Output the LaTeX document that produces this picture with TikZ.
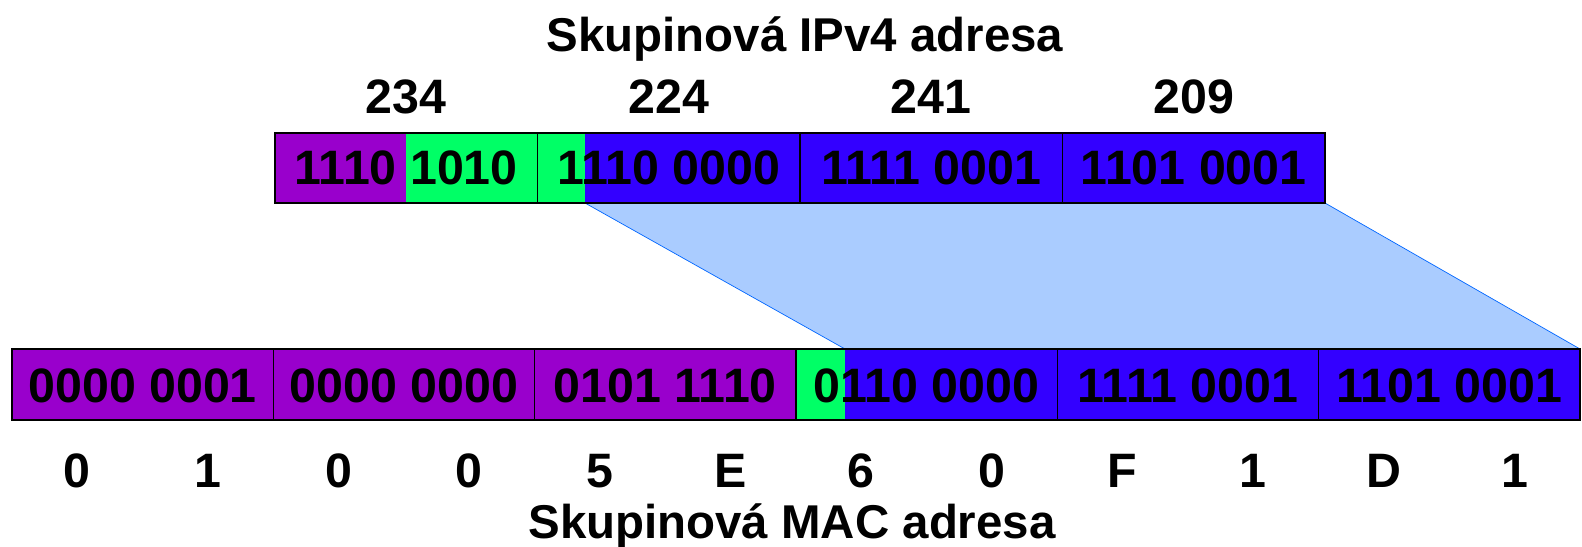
\documentclass[tikz,border=0pt]{standalone}
\usepackage{fontspec}
\setmainfont{Liberation Sans}
\definecolor{fial}{RGB}{153,0,204}
\definecolor{zel}{RGB}{0,255,102}
\definecolor{modr}{RGB}{51,0,255}
\definecolor{stin}{RGB}{170,204,255}
\definecolor{okraj}{RGB}{0,102,255}

\begin{document}
\begin{tikzpicture}[x=0.02cm, y=-0.02cm,
  bunka/.style={font=\fontsize{27.5}{32}\selectfont\bfseries, anchor=base, inner sep=0pt},
  nadpis/.style={font=\fontsize{27}{32}\selectfont\bfseries, anchor=base, inner sep=0pt}]
\useasboundingbox (0,0) rectangle (1582,547);

%Nadpisy
\node[nadpis] (ipv4) at (805,52) {Skupinová IPv4 adresa};
\node[nadpis] (mac) at (792,538) {Skupinová MAC adresa};

%Stinovani
\fill[stin] (585,203) coordinate (s1) -- (1325,203) coordinate (s2) -- (1580,349) coordinate (s3) -- (845,349) coordinate (s4) -- cycle;
\draw[okraj] (s1) -- (s4);
\draw[okraj] (s2) -- (s3);

%IPv4 adresa
\fill[fial] (275,133) rectangle (406,203);
\fill[zel] (406,133) rectangle (585,203);
\fill[modr] (585,133) rectangle (1325,203);
\draw[thick] (275,133) rectangle (1325,203);
\foreach \i in {1,2,3}
	\draw[thick] ({275+262.5*\i},133) -- ++(0,70);
\foreach \t [count=\i] in {1110 1010, 1110 0000, 1111 0001, 1101 0001}
	\node[bunka] (ip\i) at ({275+262.5*\i-131.25},185) {\t};
\foreach \n [count=\i] in {234, 224, 241, 209}
	\node[bunka] (dek\i) at ({275+262.5*\i-131.25},114) {\n};

%MAC adresa
\fill[fial] (12,349) rectangle (796,420);
\fill[zel] (796,349) rectangle (845,420);
\fill[modr] (845,349) rectangle (1580,420);
\draw[thick] (12,349) rectangle (1580,420);
\foreach \i in {1,...,5}
	\draw[thick] ({12+261.3*\i},349) -- ++(0,71);
\foreach \t [count=\i] in {0000 0001, 0000 0000, 0101 1110, 0110 0000, 1111 0001, 1101 0001}
	\node[bunka] (mac\i) at ({12+261.3*\i-130.65},402) {\t};
\foreach \h [count=\i] in {0,1,0,0,5,E,6,0,F,1,D,1}
	\node[bunka] (hex\i) at ({77.3+130.65*(\i-1)},487) {\h};

\end{tikzpicture}
\end{document}
